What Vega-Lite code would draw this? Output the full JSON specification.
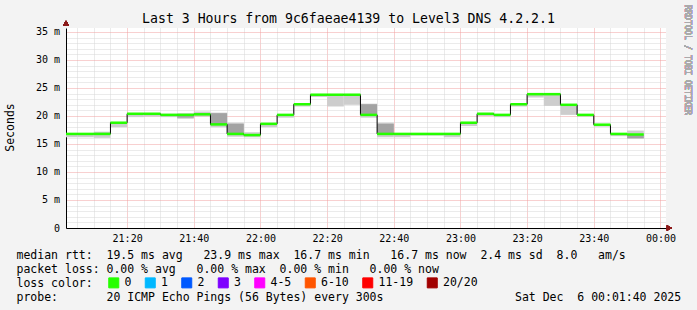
{
  "$schema": "https://vega.github.io/schema/vega-lite/v6.json",
  "width": 600,
  "height": 200,
  "autosize": {"type": "none"},
  "padding": {"left": 66, "top": 28, "right": 31, "bottom": 82},
  "background": "#f3f3f3",
  "view": {"fill": "#ffffff", "stroke": null},
  "config": {"font": "DejaVu Sans Mono"},
  "title": {
    "text": "Last 3 Hours from 9c6faeae4139 to Level3 DNS 4.2.2.1",
    "font": "DejaVu Sans Mono",
    "fontSize": 13.2,
    "fontWeight": "normal",
    "color": "#000000",
    "anchor": "middle",
    "frame": "group",
    "dx": -17.5,
    "dy": 22,
    "offset": 1
  },
  "data": {
    "values": [
      {"start": "2025-12-05T21:00:00Z", "end": "2025-12-05T21:05:00Z", "med": 16.8, "lo": 16.2, "hi": 16.8, "loss": "0"},
      {"start": "2025-12-05T21:05:00Z", "end": "2025-12-05T21:10:00Z", "med": 16.8, "lo": 16.2, "hi": 16.8, "loss": "0"},
      {"start": "2025-12-05T21:10:00Z", "end": "2025-12-05T21:15:00Z", "med": 16.8, "lo": 16.1, "hi": 17.2, "loss": "0"},
      {"start": "2025-12-05T21:15:00Z", "end": "2025-12-05T21:20:00Z", "med": 18.8, "lo": 18.0, "hi": 18.8, "loss": "0"},
      {"start": "2025-12-05T21:20:00Z", "end": "2025-12-05T21:25:00Z", "med": 20.4, "lo": 19.8, "hi": 20.4, "loss": "0"},
      {"start": "2025-12-05T21:25:00Z", "end": "2025-12-05T21:30:00Z", "med": 20.4, "lo": 19.9, "hi": 20.4, "loss": "0"},
      {"start": "2025-12-05T21:30:00Z", "end": "2025-12-05T21:35:00Z", "med": 20.2, "lo": 19.8, "hi": 20.4, "loss": "0"},
      {"start": "2025-12-05T21:35:00Z", "end": "2025-12-05T21:40:00Z", "med": 20.2, "lo": 19.5, "hi": 20.5, "dlo": 19.7, "dhi": 20.2, "loss": "0"},
      {"start": "2025-12-05T21:40:00Z", "end": "2025-12-05T21:45:00Z", "med": 20.3, "lo": 19.9, "hi": 20.8, "loss": "0"},
      {"start": "2025-12-05T21:45:00Z", "end": "2025-12-05T21:50:00Z", "med": 18.5, "lo": 18.0, "hi": 20.6, "dlo": 18.5, "dhi": 20.5, "loss": "0"},
      {"start": "2025-12-05T21:50:00Z", "end": "2025-12-05T21:55:00Z", "med": 16.8, "lo": 16.3, "hi": 18.8, "dlo": 16.8, "dhi": 18.6, "loss": "0"},
      {"start": "2025-12-05T21:55:00Z", "end": "2025-12-05T22:00:00Z", "med": 16.6, "lo": 16.2, "hi": 17.1, "loss": "0"},
      {"start": "2025-12-05T22:00:00Z", "end": "2025-12-05T22:05:00Z", "med": 18.6, "lo": 18.0, "hi": 18.6, "loss": "0"},
      {"start": "2025-12-05T22:05:00Z", "end": "2025-12-05T22:10:00Z", "med": 20.2, "lo": 19.7, "hi": 20.2, "loss": "0"},
      {"start": "2025-12-05T22:10:00Z", "end": "2025-12-05T22:15:00Z", "med": 22.1, "lo": 21.7, "hi": 22.1, "loss": "0"},
      {"start": "2025-12-05T22:15:00Z", "end": "2025-12-05T22:20:00Z", "med": 23.8, "lo": 23.4, "hi": 23.8, "loss": "0"},
      {"start": "2025-12-05T22:20:00Z", "end": "2025-12-05T22:25:00Z", "med": 23.8, "lo": 21.7, "hi": 23.8, "loss": "0"},
      {"start": "2025-12-05T22:25:00Z", "end": "2025-12-05T22:30:00Z", "med": 23.8, "lo": 22.0, "hi": 23.8, "loss": "0"},
      {"start": "2025-12-05T22:30:00Z", "end": "2025-12-05T22:35:00Z", "med": 20.2, "lo": 19.7, "hi": 22.2, "dlo": 20.2, "dhi": 22.1, "loss": "0"},
      {"start": "2025-12-05T22:35:00Z", "end": "2025-12-05T22:40:00Z", "med": 16.8, "lo": 16.2, "hi": 18.8, "dlo": 16.8, "dhi": 18.6, "loss": "0"},
      {"start": "2025-12-05T22:40:00Z", "end": "2025-12-05T22:45:00Z", "med": 16.8, "lo": 16.2, "hi": 16.8, "loss": "0"},
      {"start": "2025-12-05T22:45:00Z", "end": "2025-12-05T22:50:00Z", "med": 16.8, "lo": 16.5, "hi": 16.8, "loss": "0"},
      {"start": "2025-12-05T22:50:00Z", "end": "2025-12-05T22:55:00Z", "med": 16.8, "lo": 16.5, "hi": 16.8, "loss": "0"},
      {"start": "2025-12-05T22:55:00Z", "end": "2025-12-05T23:00:00Z", "med": 16.8, "lo": 16.2, "hi": 16.8, "loss": "0"},
      {"start": "2025-12-05T23:00:00Z", "end": "2025-12-05T23:05:00Z", "med": 18.8, "lo": 18.2, "hi": 18.8, "loss": "0"},
      {"start": "2025-12-05T23:05:00Z", "end": "2025-12-05T23:10:00Z", "med": 20.4, "lo": 20.0, "hi": 20.4, "loss": "0"},
      {"start": "2025-12-05T23:10:00Z", "end": "2025-12-05T23:15:00Z", "med": 20.2, "lo": 19.8, "hi": 20.2, "loss": "0"},
      {"start": "2025-12-05T23:15:00Z", "end": "2025-12-05T23:20:00Z", "med": 22.1, "lo": 21.7, "hi": 22.1, "loss": "0"},
      {"start": "2025-12-05T23:20:00Z", "end": "2025-12-05T23:25:00Z", "med": 23.9, "lo": 23.3, "hi": 24.0, "loss": "0"},
      {"start": "2025-12-05T23:25:00Z", "end": "2025-12-05T23:30:00Z", "med": 23.9, "lo": 21.8, "hi": 24.1, "loss": "0"},
      {"start": "2025-12-05T23:30:00Z", "end": "2025-12-05T23:35:00Z", "med": 22.0, "lo": 20.2, "hi": 22.0, "loss": "0"},
      {"start": "2025-12-05T23:35:00Z", "end": "2025-12-05T23:40:00Z", "med": 20.2, "lo": 19.9, "hi": 20.2, "loss": "0"},
      {"start": "2025-12-05T23:40:00Z", "end": "2025-12-05T23:45:00Z", "med": 18.45, "lo": 18.1, "hi": 18.45, "loss": "0"},
      {"start": "2025-12-05T23:45:00Z", "end": "2025-12-05T23:50:00Z", "med": 16.8, "lo": 16.4, "hi": 16.8, "loss": "0"},
      {"start": "2025-12-05T23:50:00Z", "end": "2025-12-05T23:55:00Z", "med": 16.7, "lo": 16.0, "hi": 17.4, "dlo": 16.0, "dhi": 16.6, "loss": "0"}
    ]
  },
  "encoding": {
    "x": {
      "field": "start",
      "type": "temporal",
      "scale": {
        "type": "utc",
        "domain": [
          {"year": 2025, "month": 12, "date": 5, "hours": 21, "minutes": 1, "seconds": 40, "utc": true},
          {"year": 2025, "month": 12, "date": 6, "hours": 0, "minutes": 1, "seconds": 40, "utc": true}
        ]
      },
      "axis": {
        "title": [
          "median rtt:\u00a0\u00a019.5 ms avg\u00a0\u00a0\u00a023.9 ms max\u00a0\u00a016.7 ms min\u00a0\u00a0\u00a016.7 ms now\u00a0\u00a02.4 ms sd\u00a0\u00a08.0\u00a0\u00a0\u00a0am/s",
          "packet loss: 0.00 % avg\u00a0\u00a0\u00a00.00 % max\u00a0\u00a00.00 % min\u00a0\u00a0\u00a00.00 % now",
          "loss color:",
          "probe:\u00a0\u00a0\u00a0\u00a0\u00a0\u00a0\u00a020 ICMP Echo Pings (56 Bytes) every 300s\u00a0\u00a0\u00a0\u00a0\u00a0\u00a0\u00a0\u00a0\u00a0\u00a0\u00a0\u00a0\u00a0\u00a0\u00a0\u00a0\u00a0\u00a0\u00a0Sat Dec\u00a0\u00a06 00:01:40 2025"
        ],
        "values": [1764968700000, 1764969000000, 1764969300000, 1764969600000, 1764969900000, 1764970200000, 1764970500000, 1764970800000, 1764971100000, 1764971400000, 1764971700000, 1764972000000, 1764972300000, 1764972600000, 1764972900000, 1764973200000, 1764973500000, 1764973800000, 1764974100000, 1764974400000, 1764974700000, 1764975000000, 1764975300000, 1764975600000, 1764975900000, 1764976200000, 1764976500000, 1764976800000, 1764977100000, 1764977400000, 1764977700000, 1764978000000, 1764978300000, 1764978600000, 1764978900000, 1764979200000],
        "tickCount": 40,
        "format": "%H:%M",
        "labelExpr": "(datum.value / 60000) % 20 === 0 ? datum.label : ''",
        "labelFont": "DejaVu Sans Mono",
        "labelFontSize": 10,
        "labelColor": "#000000",
        "labelPadding": 5,
        "labelAngle": 0,
        "ticks": false,
        "domainColor": "#000000",
        "grid": true,
        "gridColor": {"condition": {"test": "(datum.value / 60000) % 20 === 0", "value": "#f0a0a0"}, "value": "#d6d6d6"},
        "gridDash": [1, 1],
        "titleFont": "DejaVu Sans Mono",
        "titleFontSize": 11.5,
        "titleFontWeight": "normal",
        "titleColor": "#000000",
        "titleAlign": "left",
        "titleBaseline": "top",
        "titleX": -50,
        "titleY": 21.4,
        "titleLineHeight": 14.2
      }
    }
  },
  "layer": [
    {
      "mark": {"type": "rect", "color": "#cdcdcd", "clip": true},
      "encoding": {
        "x2": {"field": "end"},
        "y": {
          "field": "lo",
          "type": "quantitative",
          "scale": {"domain": [0, 35.714], "nice": false, "zero": true},
          "axis": {
            "title": "Seconds",
            "values": [0,1,2,3,4,5,6,7,8,9,10,11,12,13,14,15,16,17,18,19,20,21,22,23,24,25,26,27,28,29,30,31,32,33,34,35],
            "tickCount": 40,
            "labelOverlap": false,
            "labelExpr": "datum.value % 5 === 0 ? (datum.value === 0 ? '0\u00a0\u00a0' : datum.value + '\u00a0m') : ''",
            "labelFont": "DejaVu Sans Mono",
            "labelFontSize": 10,
            "labelColor": "#000000",
            "labelPadding": 6.5,
            "ticks": false,
            "domainColor": "#000000",
            "grid": true,
            "gridColor": {"condition": {"test": "datum.value % 5 === 0", "value": "#f0a0a0"}, "value": "#d6d6d6"},
            "gridDash": [1, 1],
            "titleFont": "DejaVu Sans Mono",
            "titleFontSize": 11.5,
            "titleFontWeight": "normal",
            "titleColor": "#000000",
            "titleBaseline": "middle",
            "titleX": -56,
            "titleY": 99
          }
        },
        "y2": {"field": "hi"}
      }
    },
    {
      "mark": {"type": "rect", "color": "#a3a3a3", "clip": true},
      "encoding": {
        "x2": {"field": "end"},
        "y": {"field": "dlo", "type": "quantitative"},
        "y2": {"field": "dhi"}
      }
    },
    {
      "mark": {"type": "line", "interpolate": "step-after", "color": "#000000", "strokeWidth": 1, "clip": true},
      "encoding": {
        "y": {"field": "med", "type": "quantitative"}
      }
    },
    {
      "mark": {"type": "rule", "strokeWidth": 2.5, "clip": true},
      "encoding": {
        "x2": {"field": "end"},
        "y": {"field": "med", "type": "quantitative"},
        "color": {
          "field": "loss",
          "type": "nominal",
          "scale": {
            "domain": ["0", "1", "2", "3", "4-5", "6-10", "11-19", "20/20"],
            "range": ["#26ff00", "#00b8ff", "#0059ff", "#7e00ff", "#ff00ff", "#ff5500", "#ff0000", "#a10000"]
          },
          "legend": {
            "orient": "none",
            "legendX": 42,
            "legendY": 249,
            "direction": "horizontal",
            "title": null,
            "symbolType": "square",
            "symbolSize": 100,
            "symbolStrokeWidth": 1,
            "symbolStrokeColor": "#000000",
            "labelFont": "DejaVu Sans Mono",
            "labelFontSize": 11.5,
            "labelColor": "#000000",
            "labelOffset": 5,
            "columnPadding": 10.5,
            "encode": {
              "symbols": {
                "update": {
                  "fill": {"scale": "color", "field": "value"},
                  "stroke": {"value": "#000000"}
                }
              }
            }
          }
        }
      }
    },
    {
      "mark": {"type": "text", "text": "RRDTOOL / TOBI OETIKER", "angle": 90, "align": "left", "baseline": "middle", "font": "DejaVu Sans Mono", "fontSize": 8.3, "color": "#aaaaaa"},
      "encoding": {
        "x": {"datum": 1764979680000, "type": "temporal"},
        "y": {"datum": 39.8, "type": "quantitative"}
      }
    },
    {
      "mark": {"type": "point", "shape": "triangle-right", "filled": true, "size": 30, "color": "#8b1a1a", "opacity": 1},
      "encoding": {
        "x": {"datum": 1764979360000, "type": "temporal"},
        "y": {"datum": 0, "type": "quantitative"}
      }
    },
    {
      "mark": {"type": "point", "shape": "triangle-up", "filled": true, "size": 30, "color": "#8b1a1a", "opacity": 1},
      "encoding": {
        "x": {"datum": 1764968500000, "type": "temporal"},
        "y": {"datum": 36.6, "type": "quantitative"}
      }
    }
  ]
}
